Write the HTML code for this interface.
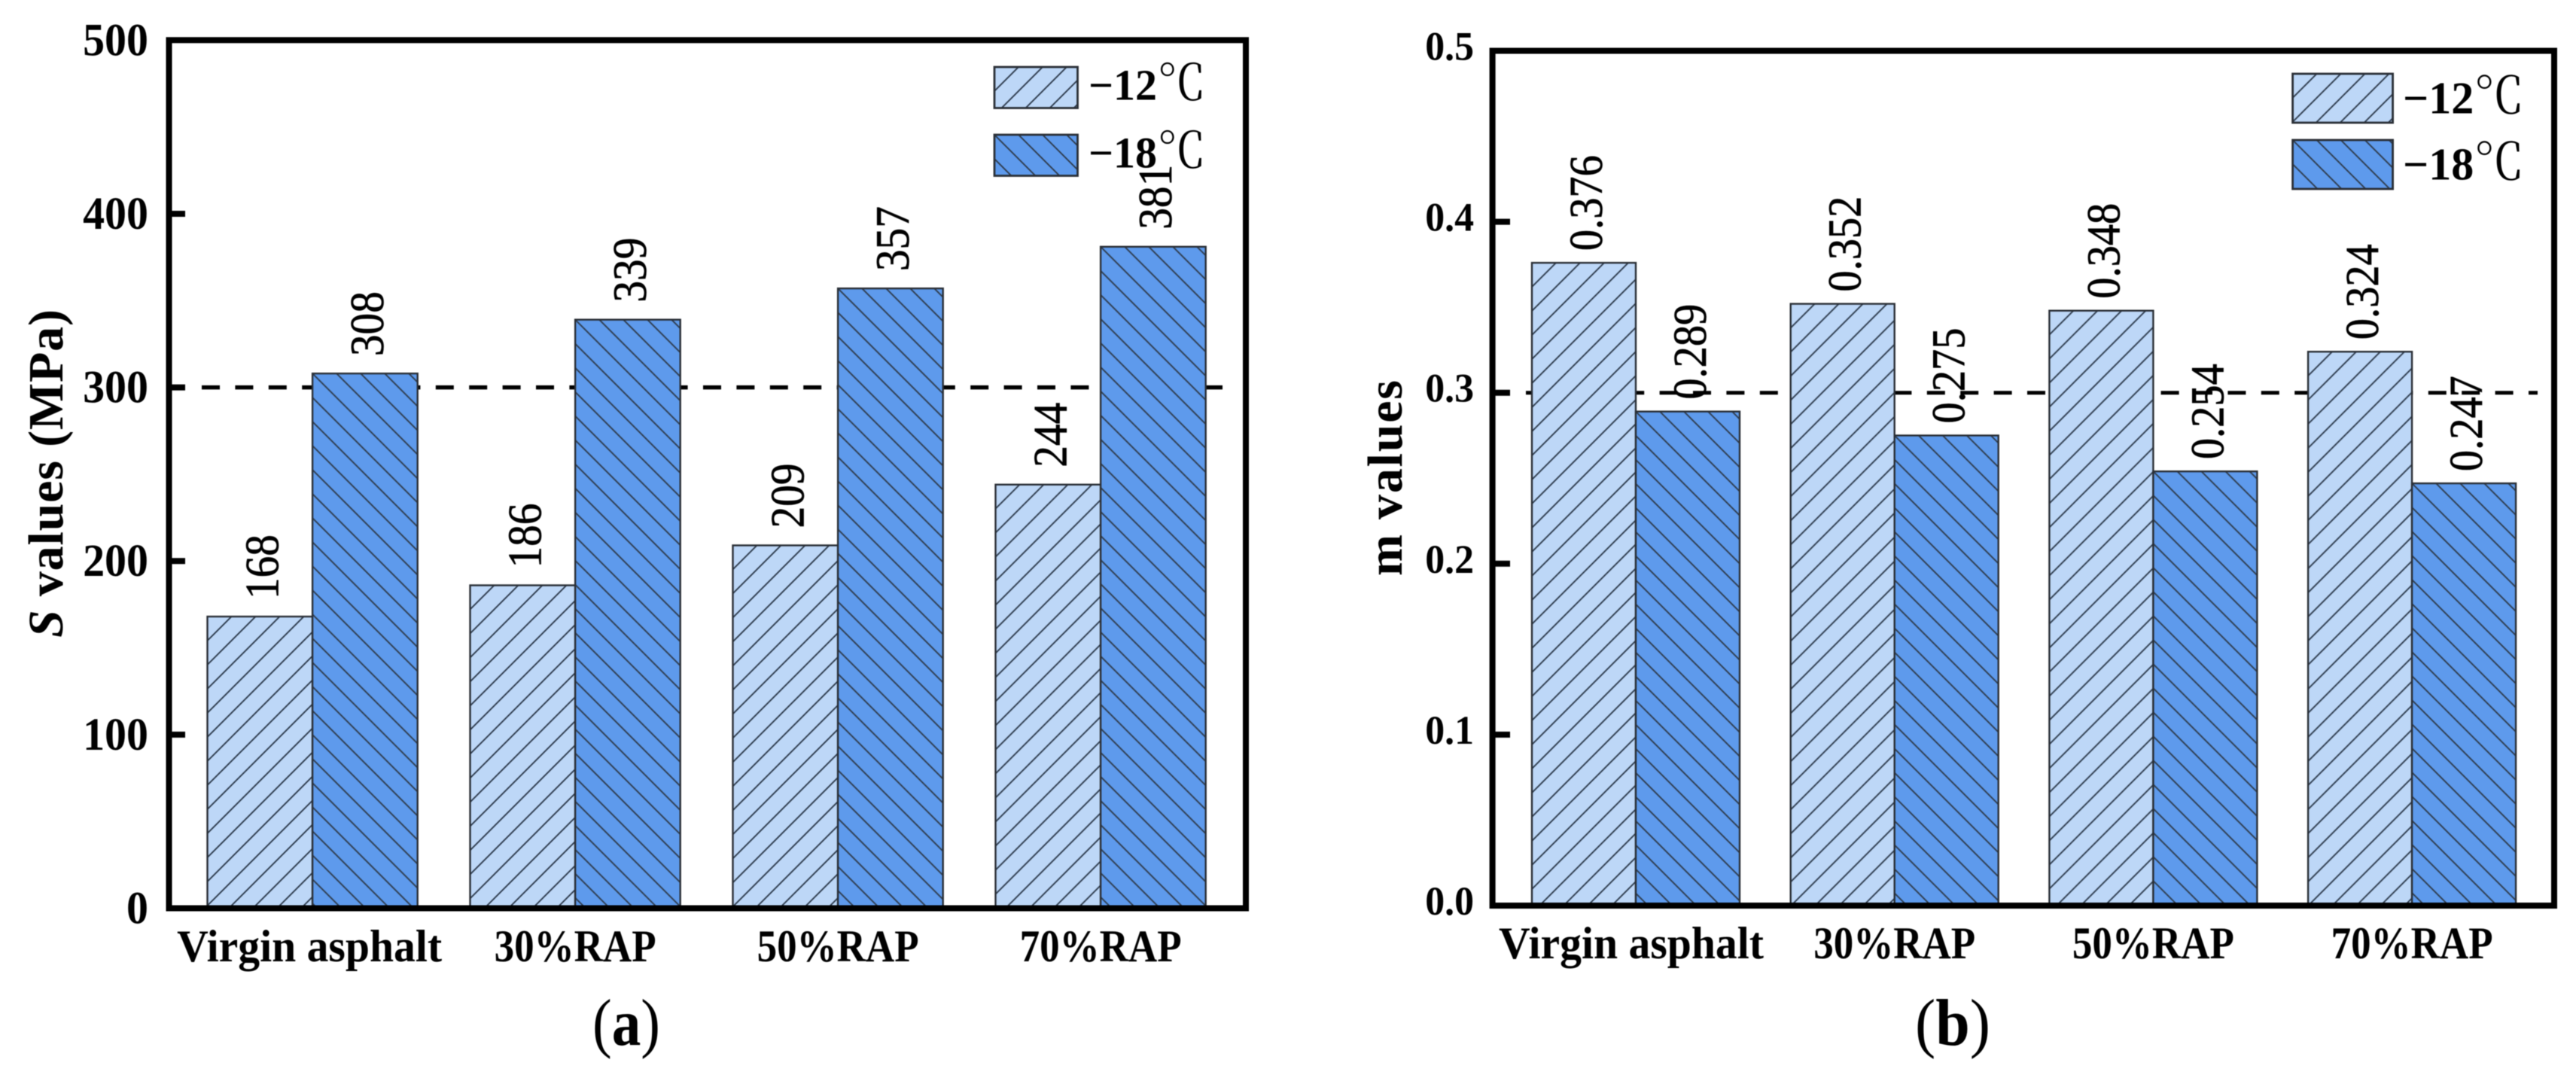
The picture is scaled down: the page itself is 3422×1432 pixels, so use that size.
<!DOCTYPE html>
<html lang="en">
<head>
<meta charset="utf-8">
<title>S values and m values of asphalt binders</title>
<style>
  html, body { margin: 0; padding: 0; background: #ffffff; }
  svg { display: block; filter: blur(0.6px); }
  text { font-family: "Liberation Serif", "Noto Serif CJK SC", serif; fill: #000000; }
</style>
</head>
<body>
<svg id="figure" xmlns="http://www.w3.org/2000/svg" width="3422" height="1432" viewBox="0 0 3422 1432"></svg>
<script>
// ---- Data ----
const categories = ['Virgin asphalt', '30%RAP', '50%RAP', '70%RAP'];
const seriesNames = ['\u221212', '\u221218'];
const sValues12 = [168, 186, 209, 244];
const sValues18 = [308, 339, 357, 381];
const mValues12 = [0.376, 0.352, 0.348, 0.324];
const mValues18 = [0.289, 0.275, 0.254, 0.247];
const sTickLabels = ['0', '100', '200', '300', '400', '500'];
const mTickLabels = ['0.0', '0.1', '0.2', '0.3', '0.4', '0.5'];
const sThreshold = 300;
const mThreshold = 0.3;

// ---- Drawing ----
const NS = 'http://www.w3.org/2000/svg';
const svg = document.getElementById('figure');
const defs = document.createElementNS(NS, 'defs');
svg.appendChild(defs);
const COLORS = ['#BDD7F7', '#5E9AEC'];
const HATCH_STROKE = '#2f3d4f';
const BAR_STROKE = '#2a2f36';
const PERIOD = 32;
let patternCount = 0;

function make(tag, attrs, parent) {
  const el = document.createElementNS(NS, tag);
  for (const k in attrs) el.setAttribute(k, attrs[k]);
  (parent || svg).appendChild(el);
  return el;
}

// Squeeze a text horizontally so taller glyphs keep the measured run length.
function squeeze(t, factor) {
  const natural = t.getComputedTextLength();
  t.setAttribute('textLength', natural * factor);
  t.setAttribute('lengthAdjust', 'spacingAndGlyphs');
}

function hatchPattern(kind, x, y) {
  const id = 'hatch-' + (patternCount++);
  const pat = make('pattern', { id: id, patternUnits: 'userSpaceOnUse', x: x, y: y, width: PERIOD, height: PERIOD }, defs);
  const d = kind === 0
    ? `M0 ${PERIOD} L${PERIOD} 0 M-3 3 L3 -3 M${PERIOD - 3} ${PERIOD + 3} L${PERIOD + 3} ${PERIOD - 3}`
    : `M0 0 L${PERIOD} ${PERIOD} M${PERIOD - 3} -3 L${PERIOD + 3} 3 M-3 ${PERIOD - 3} L3 ${PERIOD + 3}`;
  make('path', { d: d, stroke: HATCH_STROKE, 'stroke-width': 1.9, fill: 'none' }, pat);
  return 'url(#' + id + ')';
}

function hatchedRect(kind, x, y, w, h, parent) {
  return make('rect', {
    x: x, y: y, width: w, height: h,
    fill: COLORS[kind]
  }, parent);
}

function drawPanel(p, values12, values18, tickLabels, threshold) {
  const group = make('g', {});
  
  

  const maxV = parseFloat(tickLabels[tickLabels.length - 1]);
  const yScale = v => p.y0 - (v / maxV) * (p.y0 - p.yTop);
  const xGroup = i => p.barStart + i * p.groupStep;
  const xBar = (i, s) => xGroup(i) + s * p.barW;

  // threshold dashed line (beneath bars)
  const dash = make('line', {
    x1: p.dashStart, x2: p.dashEnd, y1: yScale(threshold), y2: yScale(threshold),
    stroke: '#000', 'stroke-width': p.dashWidth, 'stroke-dasharray': '24 20.4'
  }, group);
  
  

  // bars
  [values12, values18].forEach((vals, s) => {
    vals.forEach((v, i) => {
      const x = xBar(i, s);
      const top = yScale(v);
      const h = p.y0 - top;
      const base = hatchedRect(s, x, top, p.barW, h, group);
      
      
      const hatch = make('rect', {
        x: x, y: top, width: p.barW, height: h,
        fill: hatchPattern(s, x, top), stroke: BAR_STROKE, 'stroke-width': 2.4
      }, group);
      
      
    });
  });

  // frame
  const frame = make('rect', {
    x: p.xLeft, y: p.yTop, width: p.xRight - p.xLeft, height: p.y0 - p.yTop,
    fill: 'none', stroke: '#000', 'stroke-width': 8
  }, group);
  
  

  // y ticks + labels
  tickLabels.forEach(lbl => {
    const v = parseFloat(lbl);
    const y = yScale(v);
    if (v > 0 && v < maxV) {
      const tick = make('line', { x1: p.xLeft, x2: p.tickEnd, y1: y, y2: y, stroke: '#000', 'stroke-width': 8 }, group);
      
      
    }
    const t = make('text', {
      x: p.tickLabelX, y: y + p.tickLabelDy, 'text-anchor': 'end',
      'font-size': p.tickFont, 'font-weight': 'bold'
    }, group);
    t.textContent = lbl;
    
    
    squeeze(t, p.tickSqueeze);
  });

  // x labels
  categories.forEach((c, i) => {
    const long = c.length > 8;
    const cx = xBar(i, 1) + (long ? p.longLabelShift : 0);
    const t = make('text', {
      x: cx, y: p.xLabelY, 'text-anchor': 'middle',
      'font-size': 60, 'font-weight': 'bold',
      textLength: long ? 352 : 215, lengthAdjust: 'spacingAndGlyphs'
    }, group);
    t.textContent = c;
    
    
  });

  // value labels
  [values12, values18].forEach((vals, s) => {
    vals.forEach((v, i) => {
      const bx = xBar(i, s) + p.barW / 2 + 24;
      const by = yScale(v) - p.valueGap;
      const t = make('text', {
        x: 0, y: 0, transform: `translate(${bx} ${by}) rotate(-90)`,
        'font-size': p.valueFont, 'text-anchor': 'start',
        stroke: '#000', 'stroke-width': 0.7
      }, group);
      t.textContent = String(v);
      
      
      squeeze(t, p.valueSqueeze);
    });
  });

  // y-axis title
  const title = make('text', {
    x: 0, y: 0, transform: `translate(${p.titleX} ${p.titleY}) rotate(-90)`,
    'font-size': 66, 'font-weight': 'bold',
    textLength: p.titleLen, lengthAdjust: 'spacing'
  }, group);
  
  
  if (p.titleItalic) {
    const it = make('tspan', { 'font-style': 'italic' }, title);
    it.textContent = p.titleItalic;
  }
  const rest = make('tspan', {}, title);
  rest.textContent = p.titleRest;

  // legend
  seriesNames.forEach((n, s) => {
    const ly = p.legendY[s];
    const base = hatchedRect(s, p.legendX, ly, p.legendW, p.legendH, group);
    
    
    const hatch = make('rect', {
      x: p.legendX, y: ly, width: p.legendW, height: p.legendH,
      fill: hatchPattern(s, p.legendX, ly), stroke: BAR_STROKE, 'stroke-width': 2.8
    }, group);
    
    
    const t = make('text', { x: p.legendTextX, y: ly + p.legendBaseDy, 'font-size': p.legendFont }, group);
    
    
    const num = make('tspan', { 'font-weight': 'bold' }, t);
    num.textContent = n;
    const unit = make('tspan', { 'font-family': '"Noto Serif CJK SC", serif', 'font-size': p.legendFont * 1.12, dx: 0 }, t);
    unit.textContent = '\u2103';
  });

  // panel caption
  const cap = make('text', {
    x: p.capX, y: p.capY, 'font-size': 88,
    textLength: p.capLen, lengthAdjust: 'spacingAndGlyphs'
  }, group);
  
  
  const c1 = make('tspan', {}, cap);
  c1.textContent = '(';
  const c2 = make('tspan', { 'font-weight': 'bold' }, cap);
  c2.textContent = p.capLetter;
  const c3 = make('tspan', {}, cap);
  c3.textContent = ')';
}

drawPanel({
  name: 'panel-a-s-values',
  xLeft: 224.5, xRight: 1655, yTop: 53.3, y0: 1206.5,
  barStart: 275.5, groupStep: 349, barW: 139.6,
  dashStart: 268, dashEnd: 1633, dashWidth: 5.5,
  tickEnd: 246, tickLabelX: 197, tickLabelDy: 20, tickFont: 61, tickSqueeze: 0.95,
  xLabelY: 1277, longLabelShift: -4, valueFont: 63, valueSqueeze: 0.91, valueGap: 23,
  titleX: 83, titleY: 847, titleLen: 436, titleItalic: 'S', titleRest: ' values (MPa)',
  legendX: 1321, legendY: [89, 179], legendW: 110.5, legendH: 54.5,
  legendTextX: 1446, legendBaseDy: 43.5, legendFont: 58,
  capX: 787, capY: 1388, capLen: 90, capLetter: 'a'
}, sValues12, sValues18, sTickLabels, sThreshold);

drawPanel({
  name: 'panel-b-m-values',
  xLeft: 1982.6, xRight: 3393, yTop: 67.5, y0: 1203,
  barStart: 2035, groupStep: 343.7, barW: 138,
  dashStart: 2027, dashEnd: 3371, dashWidth: 5,
  tickEnd: 2006, tickLabelX: 1958, tickLabelDy: 12, tickFont: 54, tickSqueeze: 0.96,
  xLabelY: 1273, longLabelShift: -6, valueFont: 62, valueSqueeze: 0.91, valueGap: 16,
  titleX: 1862, titleY: 765, titleLen: 260, titleItalic: '', titleRest: 'm values',
  legendX: 3045.6, legendY: [98, 186], legendW: 133, legendH: 65,
  legendTextX: 3192, legendBaseDy: 52.7, legendFont: 60,
  capX: 2544, capY: 1388, capLen: 100, capLetter: 'b'
}, mValues12, mValues18, mTickLabels, mThreshold);
</script>
</body>
</html>
